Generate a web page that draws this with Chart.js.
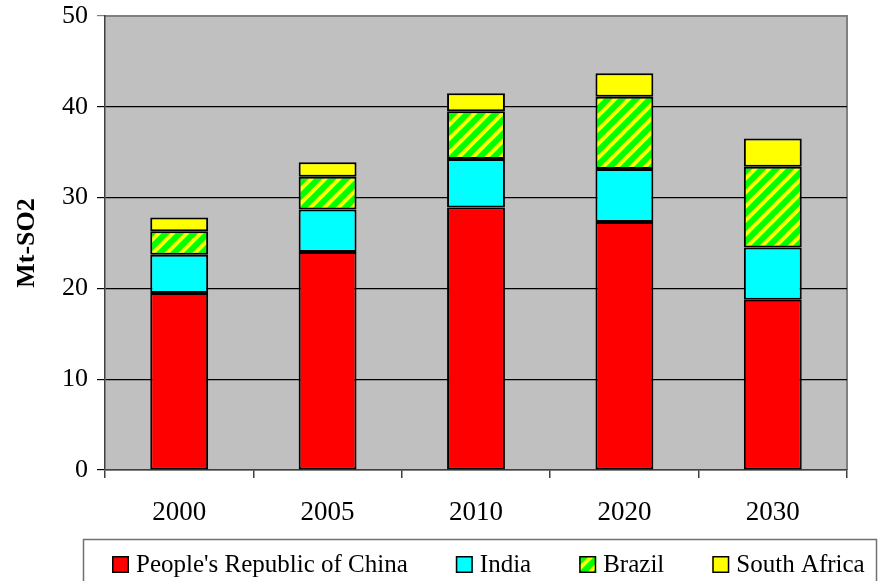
<!DOCTYPE html>
<html><head><meta charset="utf-8">
<script src="https://cdn.jsdelivr.net/npm/chart.js@4.4.1/dist/chart.umd.min.js"></script>
<style>html,body{margin:0;padding:0;background:#fff;} #wrap{width:880px;height:581px;position:relative;}</style>
</head><body><div id="wrap"><canvas id="c" width="880" height="581"></canvas></div>
<script>
const categories = ['2000', '2005', '2010', '2020', '2030'];
const seriesNames = ["People's Republic of China", 'India', 'Brazil', 'South Africa'];
const china = [19.5, 24.0, 28.9, 27.3, 18.75];
const india = [4.2, 4.7, 5.35, 5.85, 5.75];
const brazil = [2.6, 3.6, 5.25, 7.95, 8.9];
const southAfrica = [1.5, 1.6, 2.0, 2.6, 3.1];
const yTicks = [0, 10, 20, 30, 40, 50];
const yTitle = 'Mt-SO2';

const FONT = '"Liberation Serif", "Times New Roman", serif';

function makeStripePattern() {
  const s = 14;
  const cv = document.createElement('canvas');
  cv.width = s; cv.height = s;
  const g = cv.getContext('2d');
  g.fillStyle = '#00FF00';
  g.fillRect(0, 0, s, s);
  g.strokeStyle = '#FFFF00';
  g.lineWidth = 4;
  [[-s, s, s, -s], [0, s, s, 0], [0, 2 * s, 2 * s, 0]].forEach(l => {
    g.beginPath(); g.moveTo(l[0] - s / 2, l[1] + s / 2); g.lineTo(l[2] + s / 2, l[3] - s / 2); g.stroke();
  });
  return g.createPattern(cv, 'repeat');
}
const stripes = makeStripePattern();

const seriesValues = [china, india, brazil, southAfrica];
const seriesFills = ['#FF0000', '#00FFFF', stripes, '#FFFF00'];

const plotBg = {
  id: 'plotBg',
  beforeDraw(chart) {
    const { ctx, chartArea: a } = chart;
    ctx.save();
    ctx.fillStyle = '#C0C0C0';
    ctx.fillRect(a.left, a.top, a.right - a.left, a.bottom - a.top);
    ctx.strokeStyle = '#808080';
    ctx.lineWidth = 2;
    ctx.beginPath();
    ctx.moveTo(a.left, a.top); ctx.lineTo(a.right, a.top); ctx.lineTo(a.right, a.bottom);
    ctx.stroke();
    ctx.restore();
  }
};

const customLegend = {
  id: 'customLegend',
  afterDraw(chart) {
    const { ctx } = chart;
    ctx.save();
    ctx.strokeStyle = '#707070';
    ctx.lineWidth = 1.5;
    ctx.strokeRect(83.5, 539.5, 793, 60);
    ctx.font = '25px ' + FONT;
    ctx.textBaseline = 'alphabetic';
    let x = 112;
    const box = 17, gap = 7, itemGap = 48;
    chart.data.datasets.forEach(ds => {
      ctx.fillStyle = ds.backgroundColor;
      ctx.fillRect(x, 556, box, box);
      ctx.strokeStyle = '#000';
      ctx.lineWidth = 1.5;
      ctx.strokeRect(x + 0.75, 556.75, box - 1.5, box - 1.5);
      ctx.fillStyle = '#000';
      const tx = x + box + gap;
      ctx.fillText(ds.label, tx, 572);
      x = tx + ctx.measureText(ds.label).width + itemGap;
    });
    ctx.restore();
  }
};

new Chart(document.getElementById('c'), {
  type: 'bar',
  data: {
    labels: categories,
    datasets: seriesNames.map((n, i) => ({
      label: n,
      data: seriesValues[i],
      backgroundColor: seriesFills[i],
      borderColor: '#000',
      borderWidth: 2,
      borderSkipped: false,
      categoryPercentage: 1,
      barPercentage: 0.39
    }))
  },
  options: {
    responsive: false,
    animation: false,
    devicePixelRatio: 1,
    layout: { padding: { top: 16, left: 0, right: 33, bottom: 0 } },
    plugins: { legend: { display: false }, tooltip: { enabled: false } },
    scales: {
      x: {
        stacked: true,
        grid: { drawOnChartArea: false, drawTicks: true, tickLength: 8, color: '#404040', lineWidth: 1.5 },
        border: { color: '#404040', width: 1.5 },
        ticks: { color: '#000', font: { family: FONT, size: 27 }, padding: 19 },
        afterFit(s) { s.height = 111; s.paddingLeft = 0; s.paddingRight = 0; }
      },
      y: {
        stacked: true,
        min: 0, max: 50,
        afterBuildTicks(s) { s.ticks = yTicks.map(v => ({ value: v })); },
        grid: {
          color: c => (c.tick && c.tick.value === 50) ? '#808080' : '#000',
          lineWidth: 1.2,
          tickLength: 8
        },
        border: { color: '#404040', width: 1.5 },
        ticks: { color: '#000', font: { family: FONT, size: 26 }, padding: 9 },
        title: { display: true, text: yTitle, color: '#000', font: { family: FONT, size: 26, weight: 'bold' }, padding: { top: 12, bottom: 0 } },
        afterFit(s) { s.width = 105; s.paddingTop = 0; s.paddingBottom = 0; }
      }
    }
  },
  plugins: [plotBg, customLegend]
});
</script>
</body></html>
